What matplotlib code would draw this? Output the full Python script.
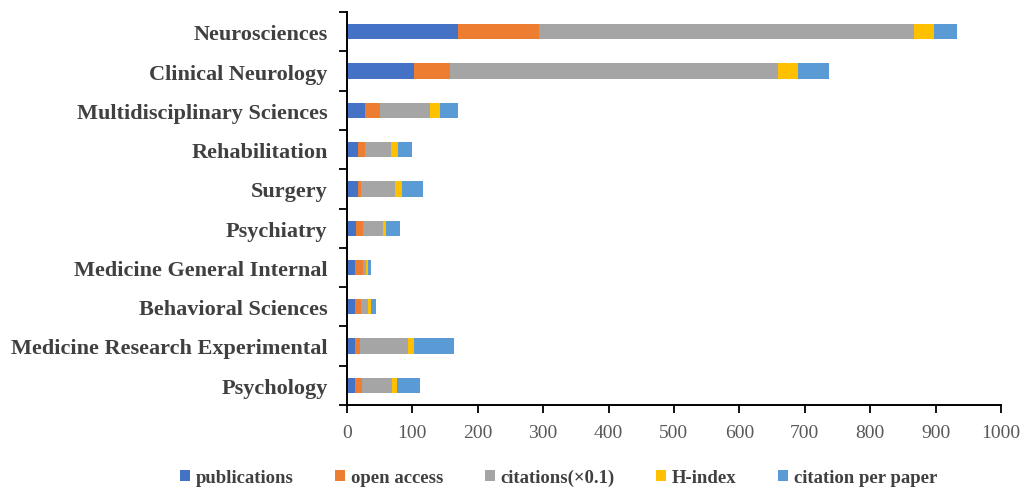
import matplotlib
matplotlib.use("Agg")
import matplotlib.pyplot as plt
from matplotlib.patches import Patch
import numpy as np

categories = [
    "Neurosciences",
    "Clinical Neurology",
    "Multidisciplinary Sciences",
    "Rehabilitation",
    "Surgery",
    "Psychiatry",
    "Medicine General Internal",
    "Behavioral Sciences",
    "Medicine Research Experimental",
    "Psychology",
]

series_names = ["publications", "open access", "citations(\u00d70.1)", "H-index", "citation per paper"]

publications = [170, 102, 28, 17, 17, 14, 12, 12, 12, 12]
open_access = [123, 56, 23, 10, 5, 10, 13, 10, 8, 11]
citations_x01 = [574, 501, 76, 41, 51, 31, 4, 10, 74, 46]
h_index = [31, 30, 15, 10, 11, 5, 3, 5, 8, 8]
citation_per_paper = [35, 48, 28, 21, 32, 21, 5, 7, 61, 35]

x_ticks = [0, 100, 200, 300, 400, 500, 600, 700, 800, 900, 1000]

colors = ["#4472C4", "#ED7D31", "#A5A5A5", "#FFC000", "#5B9BD5"]

plt.rcParams["font.family"] = ["Liberation Serif", "DejaVu Serif"]

fig = plt.figure(figsize=(10.25, 4.89), dpi=100)
ax = fig.add_axes([0.3385, 0.170, 0.638, 0.803])

y = np.arange(len(categories))
left = np.zeros(len(categories))
data = [publications, open_access, citations_x01, h_index, citation_per_paper]
for name, vals, col in zip(series_names, data, colors):
    vals = np.array(vals, dtype=float)
    ax.barh(y, vals, left=left, height=0.39, color=col, label=name,
            edgecolor="none")
    left += vals

ax.set_ylim(len(categories) - 0.5, -0.5)
ax.set_xlim(0, 1000)
ax.set_xticks(x_ticks)
ax.set_xticklabels([str(t) for t in x_ticks], fontsize=14, color="#595959")

ax.set_yticks(y)
ax.set_yticklabels(categories, fontsize=16, fontweight="bold", color="#404040")
ax.tick_params(axis="y", length=0, pad=14)
ax.set_yticks(np.arange(-0.5, len(categories) + 0.5, 1), minor=True)
ax.tick_params(axis="y", which="minor", length=6, width=1.3, color="black", direction="out")
ax.tick_params(axis="x", length=6, width=1.3, color="black", direction="out", pad=8)

for side in ("top", "right"):
    ax.spines[side].set_visible(False)
for side in ("left", "bottom"):
    ax.spines[side].set_linewidth(1.4)
    ax.spines[side].set_color("black")

handles = [Patch(facecolor=c, edgecolor="none") for c in colors]
fig.legend(handles, series_names, loc="center", bbox_to_anchor=(0.545, 0.022),
           ncol=5, frameon=False, handlelength=0.55, handleheight=0.55,
           handletextpad=0.3, columnspacing=2.2,
           prop={"size": 13.5, "weight": "bold"}, labelcolor="#404040")

fig.savefig("out.png", dpi=100)
